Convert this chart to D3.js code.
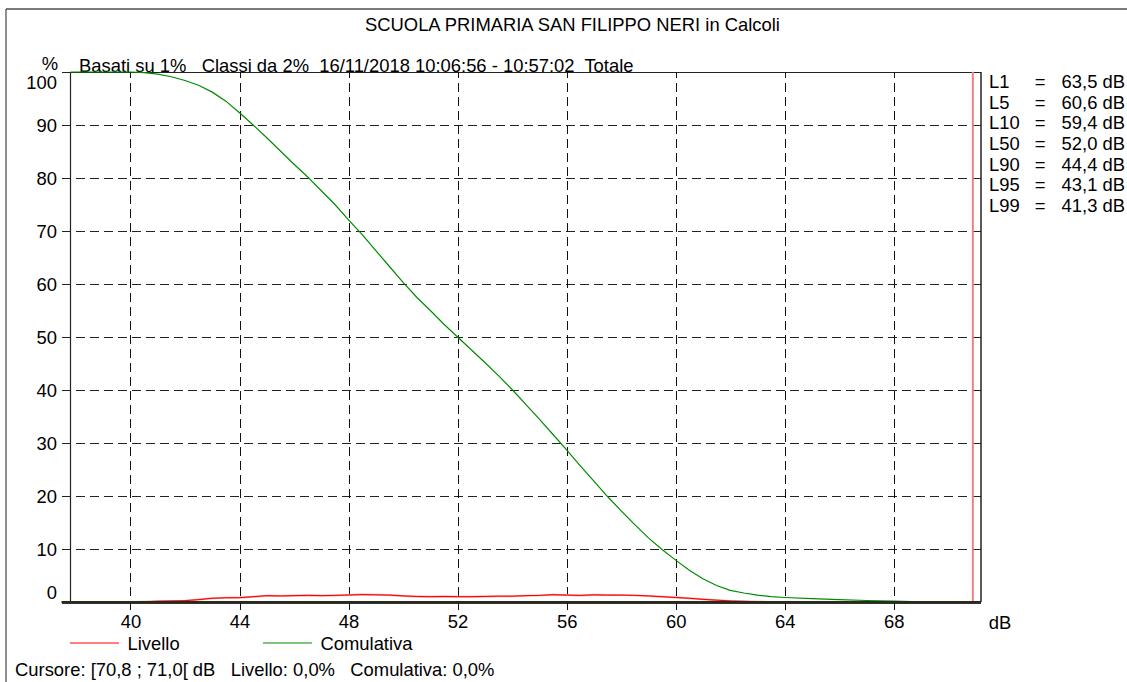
<!DOCTYPE html>
<html><head><meta charset="utf-8">
<script src="https://cdn.jsdelivr.net/npm/d3@7"></script>
<style>
html,body{margin:0;padding:0;background:#fff;}
svg{display:block;font-family:"Liberation Sans",Arial,sans-serif;}
text{fill:#000;white-space:pre;}
</style></head>
<body><svg id="c" width="1127" height="682"></svg>
<script>
// ---- data ----
const xTickValues = [40, 44, 48, 52, 56, 60, 64, 68];
const yTickValues = [0, 10, 20, 30, 40, 50, 60, 70, 80, 90, 100];
const cumDb = [37.8, 40, 40.5, 41, 41.5, 42, 42.5, 43, 43.5, 44, 44.5, 45, 45.5, 46, 46.5, 47, 47.5, 48, 48.5, 49, 49.5, 50, 50.5, 51, 51.5, 52, 52.5, 53, 53.5, 54, 54.5, 55, 55.5, 56, 56.5, 57, 57.5, 58, 58.5, 59, 59.5, 60, 60.5, 61, 61.5, 62, 62.5, 63, 63.5, 64, 65, 66, 67, 68, 69, 70, 71.2];
const cumValues = [100, 100, 99.9, 99.6, 99.1, 98.4, 97.5, 96.2, 94.5, 92.3, 90, 87.6, 85.1, 82.6, 80.2, 77.6, 75, 72.1, 69.3, 66.3, 63.3, 60.3, 57.5, 55, 52.4, 50, 47.6, 45.2, 42.7, 40.1, 37.3, 34.5, 31.6, 28.7, 25.7, 22.8, 19.9, 17.2, 14.6, 12.1, 9.9, 7.9, 6.0, 4.4, 3.1, 2.2, 1.7, 1.3, 1.0, 0.85, 0.62, 0.45, 0.28, 0.15, 0.05, 0, 0];
const levDb = [37.8, 40, 40.5, 41, 41.5, 42, 42.5, 43, 43.5, 44, 44.5, 45, 45.5, 46, 46.5, 47, 47.5, 48, 48.5, 49, 49.5, 50, 50.5, 51, 51.5, 52, 52.5, 53, 53.5, 54, 54.5, 55, 55.5, 56, 56.5, 57, 57.5, 58, 58.5, 59, 59.5, 60, 60.5, 61, 61.5, 62, 62.5, 63, 63.5, 64, 71.2];
const levValues = [0, 0, 0.05, 0.15, 0.2, 0.25, 0.45, 0.7, 0.8, 0.82, 1.0, 1.2, 1.15, 1.2, 1.25, 1.2, 1.25, 1.32, 1.4, 1.35, 1.3, 1.15, 1.05, 1.0, 1.05, 1.0, 1.0, 1.05, 1.1, 1.1, 1.2, 1.25, 1.38, 1.3, 1.25, 1.35, 1.3, 1.3, 1.25, 1.15, 1.0, 0.85, 0.7, 0.5, 0.35, 0.2, 0.12, 0.05, 0.02, 0, 0];
const statLabels = ["L1", "L5", "L10", "L50", "L90", "L95", "L99"];
const statValues = ["63,5 dB", "60,6 dB", "59,4 dB", "52,0 dB", "44,4 dB", "43,1 dB", "41,3 dB"];
const cursorDb = 70.9;
const titleText = "SCUOLA PRIMARIA SAN FILIPPO NERI in Calcoli";
const subtitleText = "Basati su 1%   Classi da 2%  16/11/2018 10:06:56 - 10:57:02  Totale";
const footerText = "Cursore: [70,8 ; 71,0[ dB   Livello: 0,0%   Comulativa: 0,0%";
const seriesNames = ["Livello", "Comulativa"];

// ---- layout ----
const svg = d3.select("#c");
const L = 70.5, R = 981, T = 72, B = 602;
const x = d3.scaleLinear().domain([37.8, 71.2]).range([L, R]);
const y = d3.scaleLinear().domain([0, 100]).range([B, T]);
const FS = 18.4;

// outer frame
svg.append("line").attr("x1", 6).attr("x2", 1127).attr("y1", 9).attr("y2", 9).attr("stroke", "#7a7a7a").attr("stroke-width", 2);
svg.append("line").attr("x1", 6).attr("x2", 6).attr("y1", 9).attr("y2", 682).attr("stroke", "#444").attr("stroke-width", 1.2);

svg.append("text").attr("x", 365).attr("y", 24).attr("dy", "0.36em").attr("font-size", FS).text(titleText);
svg.append("text").attr("x", 79).attr("y", 65).attr("dy", "0.36em").attr("font-size", FS).text(subtitleText);
svg.append("text").attr("x", 50).attr("y", 63).attr("dy", "0.36em").attr("text-anchor", "middle").attr("font-size", FS).text("%");

// y axis with gridlines
const gy = svg.append("g").attr("transform", `translate(${L},0)`)
  .call(d3.axisLeft(y).tickValues(yTickValues).tickSize(-(R - L)).tickSizeOuter(0).tickFormat(d3.format("d")));
gy.select(".domain").remove();
gy.selectAll(".tick line").attr("x1", -9).attr("stroke", "#222").attr("stroke-width", 1)
  .attr("stroke-dasharray", d => (d === 0 || d === 100) ? null : "9,5")
  .attr("shape-rendering", "crispEdges");
gy.selectAll(".tick text").attr("x", -13.5).attr("font-size", FS).attr("font-family", "Liberation Sans, Arial, sans-serif").attr("fill", "#000")
  .attr("dy", d => d === 100 ? "0.9em" : d === 0 ? "-0.2em" : "0.36em");
gy.selectAll(".tick").filter(d => d === 0).select("line").attr("stroke", "#333").attr("stroke-width", 2);

// x axis with gridlines
const gx = svg.append("g").attr("transform", `translate(0,${B})`)
  .call(d3.axisBottom(x).tickValues(xTickValues).tickSize(-(B - T)).tickSizeOuter(0));
gx.select(".domain").remove();
gx.selectAll(".tick line").attr("y1", 8).attr("stroke", "#111").attr("stroke-dasharray", "9,5").attr("shape-rendering", "crispEdges");
gx.selectAll(".tick text").attr("y", 13).attr("dy", "0.71em").attr("font-size", FS).attr("font-family", "Liberation Sans, Arial, sans-serif").attr("fill", "#000");
svg.append("text").attr("x", 1000).attr("y", 622).attr("dy", "0.36em").attr("text-anchor", "middle").attr("font-size", FS).text("dB");

// plot frame pieces
svg.append("line").attr("x1", L).attr("x2", L).attr("y1", T).attr("y2", B).attr("stroke", "#222").attr("stroke-width", 1.2);
svg.append("line").attr("x1", R).attr("x2", R).attr("y1", T).attr("y2", B).attr("stroke", "#222").attr("stroke-width", 1.5);

// series
const line = d3.line().x(d => x(d[0])).y(d => y(d[1]));
const levData = d3.zip(levDb, levValues);
const cumData = d3.zip(cumDb, cumValues);
svg.append("path").datum(levData).attr("d", line).attr("fill", "none").attr("stroke", "#ff9a9a").attr("stroke-width", 2);
svg.append("path").datum(levData).attr("d", line).attr("fill", "none").attr("stroke", "#ee0000").attr("stroke-width", 1);
svg.append("path").datum(cumData).attr("d", line).attr("fill", "none").attr("stroke", "#008a00").attr("stroke-width", 1.2);

// cursor
svg.append("line").attr("x1", x(cursorDb)).attr("x2", x(cursorDb)).attr("y1", T).attr("y2", B)
  .attr("stroke", "#f47e7e").attr("stroke-width", 2);

// bottom axis line redraw (dark)
svg.append("line").attr("x1", L - 9).attr("x2", R).attr("y1", B).attr("y2", B).attr("stroke", "#2a2a1a").attr("stroke-width", 2);

// stats
const sg = svg.append("g").attr("font-size", FS);
statLabels.forEach((lab, i) => {
  const yy = 81.5 + i * 20.6;
  sg.append("text").attr("x", 989).attr("y", yy).attr("dy", "0.36em").text(lab);
  sg.append("text").attr("x", 1040).attr("y", yy).attr("dy", "0.36em").attr("text-anchor", "middle").text("=");
  sg.append("text").attr("x", 1125).attr("y", yy).attr("dy", "0.36em").attr("text-anchor", "end").text(statValues[i]);
});

// legend
const legColors = ["#ff0000", "#008a00"];
const legX = [70, 263];
seriesNames.forEach((n, i) => {
  svg.append("line").attr("x1", legX[i]).attr("x2", legX[i] + 49).attr("y1", 643).attr("y2", 643).attr("stroke", legColors[i]).attr("stroke-width", 1.2);
  svg.append("text").attr("x", legX[i] + 57.5).attr("y", 643).attr("dy", "0.36em").attr("font-size", FS).text(n);
});
svg.append("text").attr("x", 15).attr("y", 669).attr("dy", "0.36em").attr("font-size", FS).text(footerText);
</script></body></html>
